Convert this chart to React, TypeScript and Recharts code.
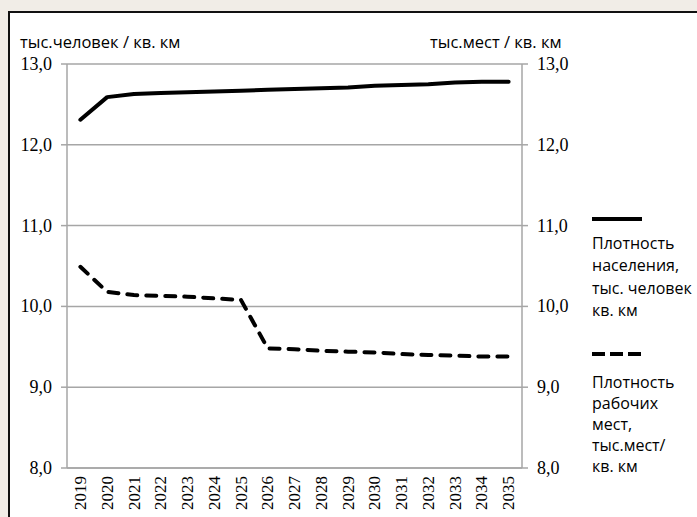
import React from 'react';
import { LineChart, Line, XAxis, YAxis, CartesianGrid, Legend } from 'recharts';

// Years on the category axis
const years = ['2019', '2020', '2021', '2022', '2023', '2024', '2025', '2026', '2027', '2028', '2029', '2030', '2031', '2032', '2033', '2034', '2035'];

// Population density, thousand people per sq. km
const populationDensity = [12.31, 12.59, 12.63, 12.64, 12.65, 12.66, 12.67, 12.68, 12.69, 12.70, 12.71, 12.73, 12.74, 12.75, 12.77, 12.78, 12.78];

// Job density, thousand jobs per sq. km
const jobDensity = [10.49, 10.18, 10.14, 10.13, 10.12, 10.10, 10.08, 9.48, 9.47, 9.45, 9.44, 9.43, 9.41, 9.40, 9.39, 9.38, 9.38];

const yTicks = [8, 9, 10, 11, 12, 13];

const leftTitle = 'тыс.человек / кв. км';
const rightTitle = 'тыс.мест / кв. км';

const populationLegend = ['Плотность', 'населения,', 'тыс. человек', 'кв. км'];
const jobsLegend = ['Плотность', 'рабочих', 'мест,', 'тыс.мест/', 'кв. км'];

const data = years.map((year, i) => ({
  i,
  year,
  population: populationDensity[i],
  jobs: jobDensity[i],
}));

const categoryTicks = years.map((_, i) => i);
const boundaryTicks = [...years.map((_, i) => i - 0.5), years.length - 0.5];

const SERIF = 'Liberation Serif';
const SANS = 'Open Sans';
const GRID = '#a6a6a6';

const fmt = (v: number) => v.toFixed(1).replace('.', ',');

const YearTick = (props: any) => {
  const { x, y, payload } = props;
  return (
    <text
      x={x}
      y={y}
      transform={`rotate(-90, ${x}, ${y})`}
      dy="0.33em"
      textAnchor="end"
      style={{ fontFamily: SERIF, fontSize: 17 }}
      fill="#000"
    >
      {years[payload.value]}
    </text>
  );
};

const ValueTick = (props: any) => {
  const { x, y, payload, textAnchor } = props;
  return (
    <text x={x} y={y} dy="0.33em" textAnchor={textAnchor} style={{ fontFamily: SERIF, fontSize: 18 }} fill="#000">
      {fmt(payload.value)}
    </text>
  );
};

// legend block layout: sample line position, first text line top, line height
const legendBlocks: Record<string, { lines: string[]; dash?: string; lineY: number; textTop: number; lh: number }> = {
  population: { lines: populationLegend, lineY: 219, textTop: 232, lh: 22.3 },
  jobs: { lines: jobsLegend, dash: '13 5', lineY: 354, textTop: 372, lh: 21 },
};

const LegendContent = (props: any) => {
  const { payload } = props;
  return (
    <div style={{ position: 'relative', width: 110, height: 10, fontFamily: SANS, fontSize: 16, color: '#000' }}>
      {payload.map((entry: any) => {
        const block = legendBlocks[entry.dataKey];
        return (
          <React.Fragment key={entry.dataKey}>
            <svg width={54} height={10} style={{ position: 'absolute', left: 0, top: block.lineY - 5 }}>
              <line
                x1={2}
                y1={5}
                x2={52}
                y2={5}
                stroke={entry.color}
                strokeWidth={4}
                strokeDasharray={block.dash}
              />
            </svg>
            <div style={{ position: 'absolute', left: 2, top: block.textTop, lineHeight: `${block.lh}px`, whiteSpace: 'nowrap' }}>
              {block.lines.map((l) => (
                <div key={l}>{l}</div>
              ))}
            </div>
          </React.Fragment>
        );
      })}
    </div>
  );
};

const AxisTitle = ({ text, tx }: { text: string; tx: number }) => (
  <text x={tx} y={48} style={{ fontFamily: SANS, fontSize: 16.5 }} fill="#000">
    {text}
  </text>
);

export default function App() {
  return (
    <div style={{ position: 'fixed', left: 0, top: 0, width: 697, height: 517, background: '#f1ede7', overflow: 'hidden' }}>
      <div style={{ position: 'absolute', left: 8, top: 11, width: 720, height: 540, background: '#fff', border: '2px solid #111', boxSizing: 'border-box' }} />
      <div style={{ position: 'absolute', left: 0, top: 0 }}>
        <LineChart width={697} height={517} data={data} margin={{ top: 64, right: 5, bottom: 0, left: 0 }}>
          <CartesianGrid horizontal vertical={false} stroke={GRID} strokeWidth={1.5} yAxisId="left" />
          <XAxis
            xAxisId="bounds"
            type="number"
            dataKey="i"
            domain={[-0.5, years.length - 0.5]}
            ticks={boundaryTicks}
            tick={false}
            tickSize={6}
            height={6}
            stroke={GRID}
            strokeWidth={1.5}
            allowDataOverflow
          />
          <XAxis
            xAxisId="years"
            type="number"
            dataKey="i"
            domain={[-0.5, years.length - 0.5]}
            ticks={categoryTicks}
            tick={<YearTick />}
            tickLine={false}
            axisLine={false}
            tickSize={0}
            tickMargin={2}
            height={43}
            interval={0}
            allowDataOverflow
          />
          <YAxis
            yAxisId="left"
            domain={[8, 13]}
            ticks={yTicks}
            width={67}
            tickSize={6}
            tickMargin={9}
            stroke={GRID}
            strokeWidth={1.5}
            tick={<ValueTick />}
            label={<AxisTitle text={leftTitle} tx={20} />}
          />
          <YAxis
            yAxisId="right"
            orientation="right"
            domain={[8, 13]}
            ticks={yTicks}
            width={60}
            tickSize={6}
            tickMargin={9}
            stroke={GRID}
            strokeWidth={1.5}
            tick={<ValueTick />}
            label={<AxisTitle text={rightTitle} tx={430} />}
          />
          <Legend
            layout="vertical"
            verticalAlign="top"
            align="right"
            content={<LegendContent />}
            wrapperStyle={{ left: 590, top: 0, width: 110 }}
          />
          <Line
            xAxisId="years"
            yAxisId="left"
            dataKey="population"
            name="Плотность населения, тыс. человек кв. км"
            stroke="#000"
            strokeWidth={4}
            strokeLinejoin="round"
            strokeLinecap="round"
            dot={false}
            activeDot={false}
            isAnimationActive={false}
          />
          <Line
            xAxisId="years"
            yAxisId="right"
            dataKey="jobs"
            name="Плотность рабочих мест, тыс.мест/ кв. км"
            stroke="#000"
            strokeWidth={4}
            strokeDasharray="10 9"
            strokeLinecap="round"
            strokeLinejoin="round"
            dot={false}
            activeDot={false}
            isAnimationActive={false}
          />
        </LineChart>
      </div>
    </div>
  );
}
